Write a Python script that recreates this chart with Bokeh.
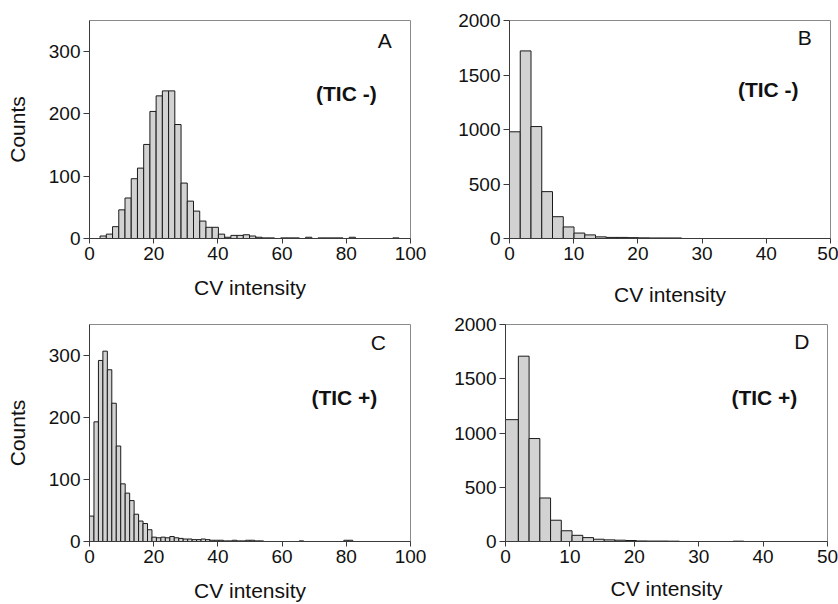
from bokeh.plotting import figure
from bokeh.layouts import row, column
from bokeh.models import Range1d, Label, FixedTicker
from bokeh.embed import file_html
from bokeh.resources import INLINE

# ---- data ----
# Panel A (TIC -), CV intensity histogram, x 0-100
a_bin_start, a_bin_width = 3.3, 1.94
a_counts = [4, 7, 19, 46, 65, 96, 113, 151, 204, 229, 237, 237, 183, 89, 60, 44, 28, 18, 18,
            7, 2, 5, 5, 6, 4, 2, 1, 1, 0, 1, 1, 1, 0, 2, 0, 1, 1, 1, 1, 0, 2,
            0, 0, 0, 0, 0, 0, 1]
# Panel B (TIC -), x 0-50
b_bin_start, b_bin_width = 0.0, 1.675
b_counts = [979, 1721, 1027, 430, 200, 106, 50, 33, 15, 10, 10, 8, 6, 5, 5, 5]
# Panel C (TIC +), x 0-100
c_bin_start, c_bin_width = 0.0, 1.39
c_counts = [41, 193, 292, 307, 277, 223, 154, 93, 78, 66, 44, 33, 29, 19,
            7, 6, 7, 6, 8, 6, 5, 4, 4, 3, 3, 4, 3, 2, 2, 2, 1, 1, 2, 1, 1, 2, 2, 1, 1,
            0, 0, 0, 0, 0, 0, 0, 0, 1, 0, 0, 0, 0, 0, 0, 0, 0, 0, 2, 2]
# Panel D (TIC +), x 0-50
d_bin_start, d_bin_width = 0.33, 1.667
d_counts = [1123, 1708, 949, 401, 196, 99, 57, 36, 21, 15, 12, 9, 5, 4, 4, 3,
            0, 0, 0, 0, 0, 3]

x_ticks_wide = [0, 20, 40, 60, 80, 100]
x_ticks_narrow = [0, 10, 20, 30, 40, 50]
y_ticks_small = [0, 100, 200, 300]
y_ticks_large = [0, 500, 1000, 1500, 2000]

panel_letters = ["A", "B", "C", "D"]
panel_tags = ["(TIC -)", "(TIC -)", "(TIC +)", "(TIC +)"]

FONT = "Liberation Sans"
BAR_FILL = "#d2d2d2"
BAR_LINE = "#1a1a1a"
AXIS_COLOR = "#3a3a3a"
FRAME_COLOR = "#8a8a8a"


def make_panel(width, height, borders, xmax, ymax, xticks, yticks,
               start, bw, counts, letter, tag, letter_xy, tag_xy,
               ylabel, xlabel_standoff, first_left=None):
    p = figure(width=width, height=height, output_backend="svg",
               toolbar_location=None,
               x_range=Range1d(0, xmax), y_range=Range1d(0, ymax),
               min_border_left=borders[0], min_border_right=borders[1],
               min_border_top=borders[2], min_border_bottom=borders[3])
    p.xgrid.visible = False
    p.ygrid.visible = False
    p.outline_line_color = FRAME_COLOR
    p.outline_line_width = 1
    p.background_fill_color = "white"
    p.border_fill_color = "white"

    lefts, rights, tops = [], [], []
    for i, c in enumerate(counts):
        if c <= 0:
            continue
        l = start + i * bw
        if i == 0 and first_left is not None:
            l = first_left
        lefts.append(l)
        rights.append(start + (i + 1) * bw)
        tops.append(c)
    p.quad(left=lefts, right=rights, top=tops, bottom=0,
           fill_color=BAR_FILL, line_color=BAR_LINE, line_width=1)

    for ax, ticks in ((p.xaxis, xticks), (p.yaxis, yticks)):
        ax.ticker = FixedTicker(ticks=ticks)
        ax.minor_tick_line_color = None
        ax.major_tick_in = 0
        ax.major_tick_line_color = AXIS_COLOR
        ax.axis_line_color = AXIS_COLOR
        ax.major_label_text_font = FONT
        ax.major_label_text_font_size = "19px"
        ax.major_label_text_color = "#111111"
        ax.axis_label_text_font = FONT
        ax.axis_label_text_font_size = "21px"
        ax.axis_label_text_font_style = "normal"
        ax.axis_label_text_color = "#111111"
    p.xaxis.major_tick_out = 5
    p.yaxis.major_tick_out = 6
    p.xaxis.major_label_standoff = 3
    p.yaxis.major_label_standoff = 3
    p.xaxis.axis_label = "CV intensity"
    p.xaxis.axis_label_standoff = xlabel_standoff
    if ylabel:
        p.yaxis.axis_label = ylabel
        p.yaxis.axis_label_standoff = 17

    p.add_layout(Label(x=letter_xy[0], y=letter_xy[1], text=letter,
                       text_font=FONT, text_font_size="21px",
                       text_align="center", text_baseline="middle",
                       text_color="#111111"))
    p.add_layout(Label(x=tag_xy[0], y=tag_xy[1], text=tag,
                       text_font=FONT, text_font_size="21px",
                       text_font_style="bold",
                       text_align="center", text_baseline="middle",
                       text_color="#111111"))
    return p


pa = make_panel(450, 308, (89, 40, 15, 68), 100, 350, x_ticks_wide, y_ticks_small,
                a_bin_start, a_bin_width, a_counts, panel_letters[0], panel_tags[0],
                (92, 318), (80, 233), "Counts", 13)
pb = make_panel(388, 308, (59, 8, 20, 68), 50, 2000, x_ticks_narrow, y_ticks_large,
                b_bin_start, b_bin_width, b_counts, panel_letters[1], panel_tags[1],
                (46, 1845), (40.3, 1370), None, 20)
pc = make_panel(450, 296, (89, 40, 15, 62), 100, 350, x_ticks_wide, y_ticks_small,
                c_bin_start, c_bin_width, c_counts, panel_letters[2], panel_tags[2],
                (90, 321), (79.4, 232), "Counts", 13)
pd = make_panel(388, 296, (55, 11, 16, 59), 50, 2000, x_ticks_narrow, y_ticks_large,
                d_bin_start, d_bin_width, d_counts, panel_letters[3], panel_tags[3],
                (46, 1840), (40.2, 1330), None, 11, first_left=0.0)

layout = column(row(pa, pb), row(pc, pd))

open("out.html", "w").write(file_html(layout, INLINE))
